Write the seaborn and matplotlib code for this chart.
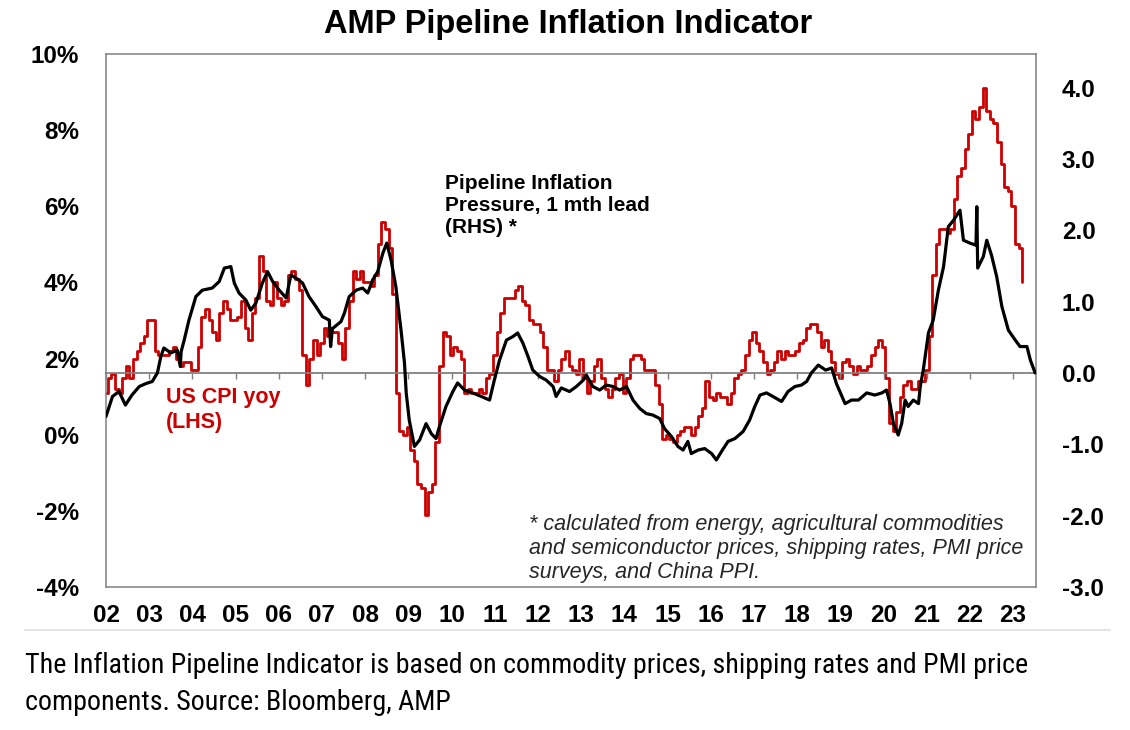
import matplotlib
matplotlib.use("Agg")
import matplotlib.pyplot as plt
from matplotlib.lines import Line2D
from matplotlib import font_manager as fm
import seaborn as sns
import numpy as np

# ---------------- data ----------------
# US CPI yoy (%), monthly Jan 2002 .. May 2023 (LHS)
cpi_yoy = [
    1.1, 1.1, 1.5, 1.6, 1.2, 1.1, 1.5, 1.8, 1.5, 2.0, 2.2, 2.4,
    2.6, 3.0, 3.0, 2.2, 2.1, 2.1, 2.1, 2.2, 2.3, 2.0, 1.8, 1.9,
    1.9, 1.7, 1.7, 2.3, 3.1, 3.3, 3.0, 2.7, 2.5, 3.2, 3.5, 3.3,
    3.0, 3.0, 3.1, 3.5, 2.8, 2.5, 3.2, 3.6, 4.7, 4.3, 3.5, 3.4,
    4.0, 3.6, 3.4, 3.5, 4.2, 4.3, 4.1, 3.8, 2.1, 1.3, 2.0, 2.5,
    2.1, 2.4, 2.8, 2.6, 2.7, 2.7, 2.4, 2.0, 2.8, 3.5, 4.3, 4.1,
    4.3, 4.0, 4.0, 3.9, 4.2, 5.0, 5.6, 5.4, 4.9, 3.7, 1.1, 0.1,
    0.0, 0.2, -0.4, -0.7, -1.3, -1.4, -2.1, -1.5, -1.3, -0.2, 1.8, 2.7,
    2.6, 2.1, 2.3, 2.2, 2.0, 1.1, 1.2, 1.1, 1.1, 1.2, 1.1, 1.5,
    1.6, 2.1, 2.7, 3.2, 3.6, 3.6, 3.6, 3.8, 3.9, 3.5, 3.4, 3.0,
    2.9, 2.9, 2.7, 2.3, 1.7, 1.7, 1.4, 1.7, 2.0, 2.2, 1.8, 1.7,
    1.6, 2.0, 1.5, 1.1, 1.4, 1.8, 2.0, 1.5, 1.2, 1.0, 1.2, 1.5,
    1.6, 1.1, 1.5, 2.0, 2.1, 2.1, 2.0, 1.7, 1.7, 1.7, 1.3, 0.8,
    -0.1, 0.0, -0.1, -0.2, 0.0, 0.1, 0.2, 0.2, 0.0, 0.2, 0.5, 0.7,
    1.4, 1.0, 0.9, 1.1, 1.0, 1.0, 0.8, 1.1, 1.5, 1.6, 1.7, 2.1,
    2.5, 2.7, 2.4, 2.2, 1.9, 1.6, 1.7, 1.9, 2.2, 2.0, 2.2, 2.1,
    2.1, 2.2, 2.4, 2.5, 2.8, 2.9, 2.9, 2.7, 2.3, 2.5, 2.2, 1.9,
    1.6, 1.5, 1.9, 2.0, 1.8, 1.6, 1.8, 1.7, 1.7, 1.8, 2.1, 2.3,
    2.5, 2.3, 1.5, 0.3, 0.1, 0.6, 1.0, 1.3, 1.4, 1.2, 1.2, 1.4,
    1.4, 1.7, 2.6, 4.2, 5.0, 5.4, 5.4, 5.3, 5.4, 6.2, 6.8, 7.0,
    7.5, 7.9, 8.5, 8.3, 8.6, 9.1, 8.5, 8.3, 8.2, 7.7, 7.1, 6.5,
    6.4, 6.0, 5.0, 4.9, 4.0,
]
cpi_first_year = 2002
cpi_plot_shift = -1.5 / 12   # source chart draws the CPI series ~1.5 months early

# Pipeline inflation pressure (RHS)
pipe_year = [
    2002.00, 2002.15, 2002.30, 2002.45, 2002.60, 2002.77, 2002.92, 2003.07, 2003.19, 2003.27,
    2003.34, 2003.50, 2003.65, 2003.72, 2003.74, 2003.81, 2003.92, 2004.08, 2004.23, 2004.46,
    2004.62, 2004.74, 2004.89, 2004.97, 2005.08, 2005.24, 2005.35, 2005.47, 2005.62, 2005.74,
    2005.86, 2006.01, 2006.17, 2006.28, 2006.40, 2006.55, 2006.70, 2006.86, 2007.01, 2007.17,
    2007.20, 2007.24, 2007.30, 2007.44, 2007.52, 2007.63, 2007.79, 2007.94, 2008.06, 2008.17,
    2008.29, 2008.41, 2008.50, 2008.60, 2008.71, 2008.83, 2008.91, 2008.95, 2009.02, 2009.14,
    2009.26, 2009.41, 2009.53, 2009.64, 2009.72, 2009.87, 2010.03, 2010.14, 2010.30, 2010.49,
    2010.69, 2010.88, 2010.99, 2011.11, 2011.27, 2011.42, 2011.53, 2011.65, 2011.77, 2011.88,
    2012.04, 2012.19, 2012.35, 2012.42, 2012.54, 2012.73, 2012.89, 2013.05, 2013.12, 2013.27,
    2013.43, 2013.58, 2013.74, 2013.89, 2014.05, 2014.20, 2014.36, 2014.51, 2014.66, 2014.82,
    2014.93, 2015.09, 2015.24, 2015.36, 2015.47, 2015.55, 2015.71, 2015.86, 2016.02, 2016.13,
    2016.25, 2016.40, 2016.56, 2016.75, 2016.90, 2017.02, 2017.14, 2017.29, 2017.44, 2017.64,
    2017.79, 2017.95, 2018.10, 2018.22, 2018.33, 2018.49, 2018.66, 2018.80, 2018.91, 2019.11,
    2019.26, 2019.42, 2019.61, 2019.80, 2019.96, 2020.07, 2020.15, 2020.23, 2020.34, 2020.42,
    2020.50, 2020.57, 2020.69, 2020.81, 2020.85, 2020.92, 2021.04, 2021.15, 2021.27, 2021.39,
    2021.50, 2021.62, 2021.77, 2021.85, 2022.00, 2022.14, 2022.16, 2022.18, 2022.31, 2022.39,
    2022.50, 2022.62, 2022.74, 2022.89, 2023.05, 2023.16, 2023.32, 2023.40, 2023.51,
]
pipe_value = [
    -0.61, -0.33, -0.26, -0.45, -0.31, -0.19, -0.15, -0.12, 0.00, 0.23,
    0.35, 0.28, 0.32, 0.09, 0.30, 0.46, 0.74, 1.07, 1.16, 1.19,
    1.28, 1.47, 1.49, 1.26, 1.12, 1.02, 0.88, 0.98, 1.26, 1.42,
    1.28, 1.16, 1.05, 1.37, 1.33, 1.26, 1.07, 0.93, 0.79, 0.74,
    0.37, 0.62, 0.65, 0.72, 0.84, 1.07, 1.16, 1.19, 1.12, 1.30,
    1.42, 1.68, 1.82, 1.58, 1.21, 0.60, 0.14, -0.28, -0.66, -1.03,
    -0.94, -0.71, -0.85, -0.92, -0.75, -0.47, -0.26, -0.14, -0.24, -0.28,
    -0.33, -0.38, -0.10, 0.18, 0.46, 0.51, 0.56, 0.42, 0.23, 0.04,
    -0.05, -0.10, -0.19, -0.33, -0.21, -0.26, -0.19, -0.10, -0.03, -0.19,
    -0.24, -0.17, -0.19, -0.24, -0.19, -0.38, -0.50, -0.57, -0.59, -0.64,
    -0.78, -0.89, -1.03, -1.08, -0.96, -1.13, -1.08, -1.06, -1.13, -1.22,
    -1.10, -0.96, -0.92, -0.82, -0.66, -0.47, -0.31, -0.28, -0.33, -0.40,
    -0.26, -0.19, -0.17, -0.12, 0.00, 0.11, 0.04, 0.07, -0.15, -0.43,
    -0.38, -0.38, -0.28, -0.31, -0.28, -0.24, -0.43, -0.71, -0.87, -0.71,
    -0.38, -0.47, -0.38, -0.43, -0.19, 0.04, 0.56, 0.74, 1.16, 1.49,
    2.05, 2.14, 2.28, 1.86, 1.82, 1.79, 2.33, 1.47, 1.63, 1.86,
    1.65, 1.35, 0.93, 0.60, 0.46, 0.37, 0.37, 0.18, 0.00,
]

year_ticks = list(range(2002, 2024))
year_labels = [f"{y % 100:02d}" for y in year_ticks]
lhs_ticks = [-4, -2, 0, 2, 4, 6, 8, 10]
lhs_labels = [f"{v}%" for v in lhs_ticks]
rhs_ticks = [-3, -2, -1, 0, 1, 2, 3, 4]
rhs_labels = [f"{v:.1f}" for v in rhs_ticks]

title = "AMP Pipeline Inflation Indicator"
pipe_label = "Pipeline Inflation\nPressure, 1 mth lead\n(RHS) *"
cpi_label = "US CPI yoy\n(LHS)"
footnote = ("* calculated from energy, agricultural commodities\n"
            "and semiconductor prices, shipping rates, PMI price\n"
            "surveys, and China PPI.")
caption = ("The Inflation Pipeline Indicator is based on commodity prices, shipping rates and PMI price\n"
           "components. Source: Bloomberg, AMP")

# ---------------- style ----------------
sns.set_theme(style="white")
plt.rcParams["font.family"] = ["Liberation Sans", "DejaVu Sans"]

RED = "#cc0000"
GRAY = "#808080"

names = {f.name for f in fm.fontManager.ttflist}
cap_family, cap_stretch, cap_size = None, "normal", 20.2
for cand in ["Liberation Sans Narrow", "Roboto Condensed", "Open Sans Condensed"]:
    if cand in names:
        cap_family = cand
        break
if cap_family is None:
    has_cond = any(f.name == "DejaVu Sans" and str(f.stretch) in ("condensed", "semi-condensed", "87.5", "75")
                   for f in fm.fontManager.ttflist)
    cap_family = "DejaVu Sans"
    cap_stretch = "condensed" if has_cond else "normal"
    cap_size = 17 if has_cond else 15.5

fig = plt.figure(figsize=(11.3, 7.3), dpi=100)
fig.patch.set_facecolor("white")
ax = fig.add_axes([106 / 1130, (730 - 587) / 730, 930 / 1130, 533 / 730])

cpi_x = np.array([cpi_first_year + i / 12 for i in range(len(cpi_yoy))]) + cpi_plot_shift
sns.lineplot(x=cpi_x, y=cpi_yoy, ax=ax, color=RED, lw=2.0,
             drawstyle="steps-post", estimator=None, sort=False)

ax2 = ax.twinx()
sns.lineplot(x=pipe_year, y=pipe_value, ax=ax2, color="black", lw=2.3,
             estimator=None, sort=False)

ax.set_xlim(2002, 2023.53)
ax.set_ylim(-4, 10)
ax2.set_ylim(-3, 4.47)

for a in (ax, ax2):
    a.set_xlabel("")
    a.set_ylabel("")
    a.grid(False)

for s in ax.spines.values():
    s.set_color(GRAY)
    s.set_linewidth(1.1)
    s.set_visible(True)
for s in ax2.spines.values():
    s.set_visible(False)

ax.set_xticks(year_ticks)
ax.set_xticklabels(year_labels, fontsize=17.5, fontweight="bold")
ax.tick_params(axis="x", length=0, pad=12.5, colors="black")
ax.set_yticks(lhs_ticks)
ax.set_yticklabels(lhs_labels, fontsize=17.5, fontweight="bold")
ax.tick_params(axis="y", length=0, pad=19.5, colors="black")
ax2.set_yticks(rhs_ticks)
ax2.set_yticklabels(rhs_labels, fontsize=17.5, fontweight="bold")
ax2.tick_params(axis="y", length=0, pad=18.5, colors="black")

# zero line of the RHS with small year ticks
try:
    sec = ax2.secondary_xaxis(0, transform=ax2.transData)
except TypeError:
    sec = ax2.secondary_xaxis(3 / 7.47)
sec.spines["bottom"].set_color(GRAY)
sec.spines["bottom"].set_linewidth(1.3)
sec.set_xticks(year_ticks)
sec.tick_params(axis="x", direction="out", length=4.5, width=1.0, color=GRAY,
                labelbottom=False)

ax.text(0.3645, 0.774, pipe_label, transform=ax.transAxes, fontsize=15,
        fontweight="bold", color="black", ha="left", va="top", linespacing=1.2)
ax.text(0.0645, 0.3745, cpi_label, transform=ax.transAxes, fontsize=15.5,
        fontweight="bold", color=RED, ha="left", va="top", linespacing=1.22)
ax.text(0.4548, 0.137, footnote, transform=ax.transAxes, fontsize=15.5,
        fontstyle="italic", color="#262626", ha="left", va="top", linespacing=1.2)

fig.text(0.5027, 1 - 32.5 / 730, title, fontsize=23.5, fontweight="bold",
         ha="center", va="baseline", color="black")

fig.add_artist(Line2D([25 / 1130, 1110 / 1130], [1 - 630 / 730] * 2,
                      color="#e3e3e3", lw=1.5))
fig.text(25 / 1130, 1 - 652 / 730, caption, fontsize=cap_size, family=cap_family,
         fontstretch=cap_stretch, color="black", ha="left", va="top", linespacing=1.47)

fig.savefig("out.png", dpi=100, facecolor="white")
